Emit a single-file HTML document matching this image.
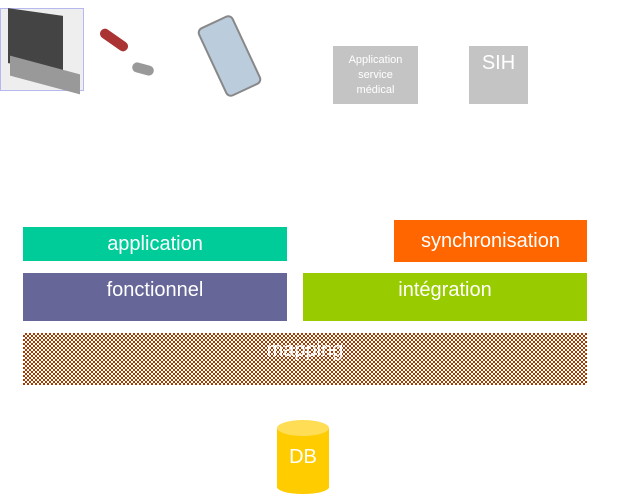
<!DOCTYPE html>
<html><head><style>
body{margin:0;width:636px;height:499px;background:#fff;position:relative;overflow:hidden;font-family:"Liberation Sans",sans-serif}
.b{position:absolute;color:#fff;display:flex;align-items:center;justify-content:center;font-size:20px}
</style></head><body>
<div style="position:absolute;left:0;top:8px;width:84px;height:83px;border:1px solid #b8b8f0;box-sizing:border-box;background:#eee"></div>
<div style="position:absolute;left:8px;top:12px;width:55px;height:55px;background:#444;transform:skewY(8deg)"></div>
<div style="position:absolute;left:10px;top:65px;width:70px;height:20px;background:#999;transform:skewY(15deg)"></div>
<div style="position:absolute;left:98px;top:35px;width:32px;height:10px;background:#a33;border-radius:5px;transform:rotate(35deg)"></div>
<div style="position:absolute;left:132px;top:64px;width:22px;height:10px;background:#999;border-radius:5px;transform:rotate(15deg)"></div>
<div style="position:absolute;left:210px;top:18px;width:35px;height:72px;background:#bcd;border:2px solid #888;border-radius:6px;transform:rotate(-25deg)"></div>
<div class="b" style="left:333px;top:46px;width:85px;height:58px;background:#c4c4c4;font-size:11px;line-height:15px;text-align:center">Application<br>service<br>médical</div>
<div class="b" style="left:469px;top:46px;width:59px;height:58px;background:#c4c4c4;align-items:flex-start;padding-top:6px;box-sizing:border-box">SIH</div>
<div class="b" style="left:23px;top:227px;width:264px;height:34px;background:#00cc99">application</div>
<div class="b" style="left:394px;top:220px;width:193px;height:42px;background:#ff6600">synchronisation</div>
<div class="b" style="left:23px;top:273px;width:264px;height:48px;background:#666699;align-items:flex-start;padding-top:6px;box-sizing:border-box">fonctionnel</div>
<div class="b" style="left:303px;top:273px;width:284px;height:48px;background:#99cc00;align-items:flex-start;padding-top:6px;box-sizing:border-box">intégration</div>
<div class="b" style="left:23px;top:333px;width:564px;height:52px;background-color:#d09a80;background-image:repeating-conic-gradient(#a33a00 0 25%,#fff 0 50%);background-size:4px 4px;align-items:flex-start;padding-top:6px;box-sizing:border-box">mapping</div>
<svg style="position:absolute;left:0;top:0" width="636" height="499">
<path d="M277 428 L277 487 A26 7 0 0 0 329 487 L329 428" fill="#ffcc00"/>
<ellipse cx="303" cy="428" rx="26" ry="8" fill="#ffdd55"/>
<text x="303" y="463" fill="#fff" font-size="20" text-anchor="middle" font-family="Liberation Sans">DB</text>
</svg>
</body></html>
